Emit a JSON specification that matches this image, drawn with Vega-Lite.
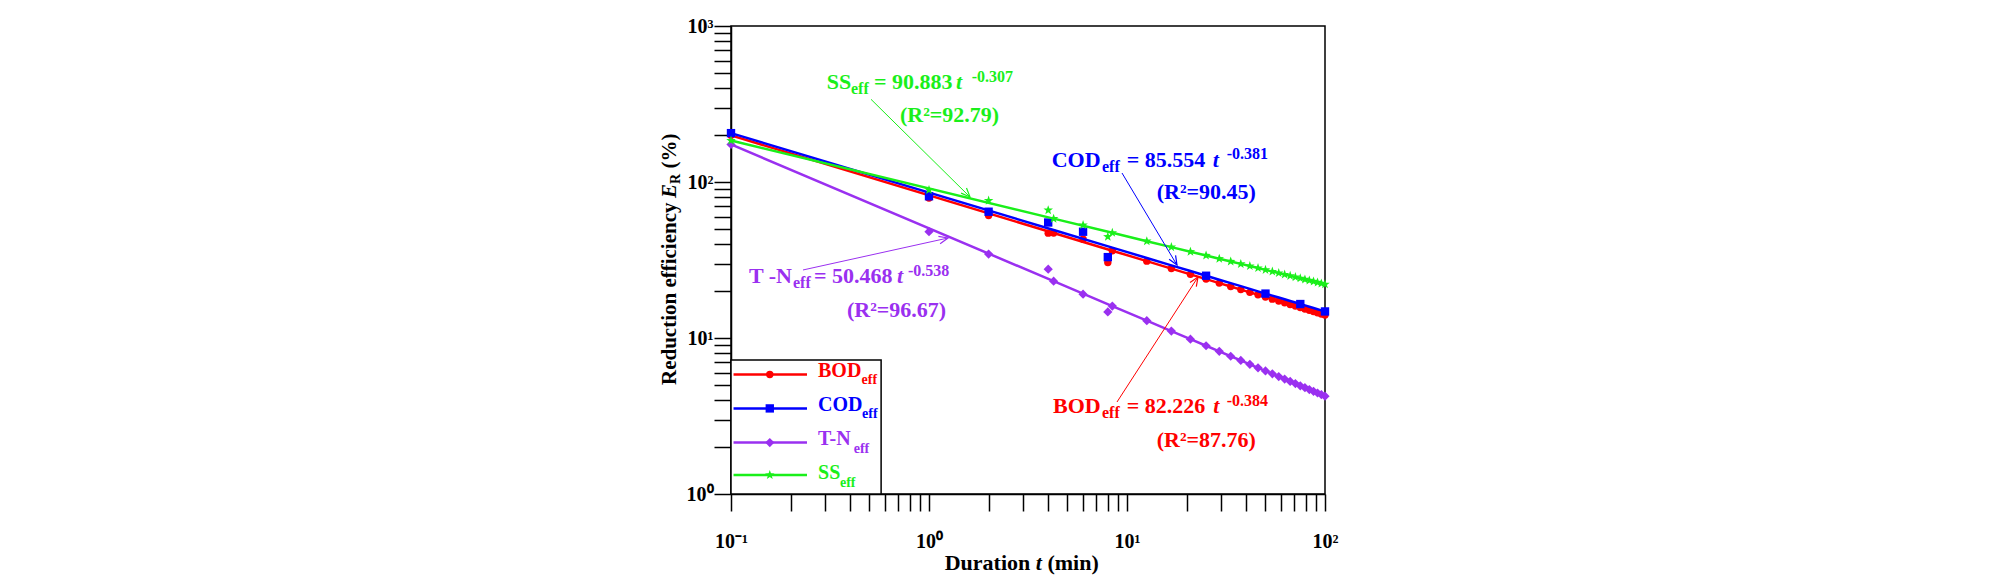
{
  "$schema": "https://vega.github.io/schema/vega-lite/v6.json",
  "width": 594,
  "height": 468,
  "autosize": {"type": "none"},
  "padding": {"left": 731, "top": 26, "right": 683, "bottom": 90},
  "background": "white",
  "config": {
    "view": {"stroke": "black", "strokeWidth": 1.5},
    "text": {"font": "Liberation Serif", "fontWeight": "bold", "align": "left", "baseline": "alphabetic"}
  },
  "datasets": {
    "fit": [
      {"series": "BOD", "t": 0.1, "v": 199.07}, {"series": "BOD", "t": 4.26, "v": 47.13}, {"series": "BOD", "t": 8.43, "v": 36.26},
      {"series": "BOD", "t": 12.59, "v": 31.09}, {"series": "BOD", "t": 16.75, "v": 27.86}, {"series": "BOD", "t": 20.91, "v": 25.59},
      {"series": "BOD", "t": 25.08, "v": 23.86}, {"series": "BOD", "t": 29.24, "v": 22.49}, {"series": "BOD", "t": 33.4, "v": 21.37},
      {"series": "BOD", "t": 37.56, "v": 20.43}, {"series": "BOD", "t": 41.73, "v": 19.62}, {"series": "BOD", "t": 45.89, "v": 18.92},
      {"series": "BOD", "t": 50.05, "v": 18.3}, {"series": "BOD", "t": 54.21, "v": 17.75}, {"series": "BOD", "t": 58.38, "v": 17.25},
      {"series": "BOD", "t": 62.54, "v": 16.8}, {"series": "BOD", "t": 66.7, "v": 16.39}, {"series": "BOD", "t": 70.86, "v": 16.01},
      {"series": "BOD", "t": 75.03, "v": 15.66}, {"series": "BOD", "t": 79.19, "v": 15.34}, {"series": "BOD", "t": 83.35, "v": 15.04},
      {"series": "BOD", "t": 87.51, "v": 14.77}, {"series": "BOD", "t": 91.68, "v": 14.5}, {"series": "BOD", "t": 95.84, "v": 14.26},
      {"series": "BOD", "t": 100, "v": 14.03},
      {"series": "COD", "t": 0.1, "v": 205.7}, {"series": "COD", "t": 4.26, "v": 49.25}, {"series": "COD", "t": 8.43, "v": 37.98},
      {"series": "COD", "t": 12.59, "v": 32.59}, {"series": "COD", "t": 16.75, "v": 29.23}, {"series": "COD", "t": 20.91, "v": 26.86},
      {"series": "COD", "t": 25.08, "v": 25.07}, {"series": "COD", "t": 29.24, "v": 23.64}, {"series": "COD", "t": 33.4, "v": 22.47},
      {"series": "COD", "t": 37.56, "v": 21.49}, {"series": "COD", "t": 41.73, "v": 20.65}, {"series": "COD", "t": 45.89, "v": 19.91},
      {"series": "COD", "t": 50.05, "v": 19.26}, {"series": "COD", "t": 54.21, "v": 18.69}, {"series": "COD", "t": 58.38, "v": 18.17},
      {"series": "COD", "t": 62.54, "v": 17.7}, {"series": "COD", "t": 66.7, "v": 17.27}, {"series": "COD", "t": 70.86, "v": 16.87},
      {"series": "COD", "t": 75.03, "v": 16.51}, {"series": "COD", "t": 79.19, "v": 16.18}, {"series": "COD", "t": 83.35, "v": 15.86},
      {"series": "COD", "t": 87.51, "v": 15.57}, {"series": "COD", "t": 91.68, "v": 15.3}, {"series": "COD", "t": 95.84, "v": 15.04},
      {"series": "COD", "t": 100, "v": 14.8},
      {"series": "T-N", "t": 0.1, "v": 174.19}, {"series": "T-N", "t": 4.26, "v": 23.14}, {"series": "T-N", "t": 8.43, "v": 16.03},
      {"series": "T-N", "t": 12.59, "v": 12.92}, {"series": "T-N", "t": 16.75, "v": 11.08}, {"series": "T-N", "t": 20.91, "v": 9.83},
      {"series": "T-N", "t": 25.08, "v": 8.92}, {"series": "T-N", "t": 29.24, "v": 8.21}, {"series": "T-N", "t": 33.4, "v": 7.64},
      {"series": "T-N", "t": 37.56, "v": 7.18}, {"series": "T-N", "t": 41.73, "v": 6.78}, {"series": "T-N", "t": 45.89, "v": 6.44},
      {"series": "T-N", "t": 50.05, "v": 6.15}, {"series": "T-N", "t": 54.21, "v": 5.89}, {"series": "T-N", "t": 58.38, "v": 5.66},
      {"series": "T-N", "t": 62.54, "v": 5.45}, {"series": "T-N", "t": 66.7, "v": 5.27}, {"series": "T-N", "t": 70.86, "v": 5.1},
      {"series": "T-N", "t": 75.03, "v": 4.94}, {"series": "T-N", "t": 79.19, "v": 4.8}, {"series": "T-N", "t": 83.35, "v": 4.67},
      {"series": "T-N", "t": 87.51, "v": 4.55}, {"series": "T-N", "t": 91.68, "v": 4.44}, {"series": "T-N", "t": 95.84, "v": 4.34},
      {"series": "T-N", "t": 100, "v": 4.24},
      {"series": "SS", "t": 0.1, "v": 184.28}, {"series": "SS", "t": 4.26, "v": 58.24}, {"series": "SS", "t": 8.43, "v": 47.23},
      {"series": "SS", "t": 12.59, "v": 41.76}, {"series": "SS", "t": 16.75, "v": 38.26}, {"series": "SS", "t": 20.91, "v": 35.74},
      {"series": "SS", "t": 25.08, "v": 33.8}, {"series": "SS", "t": 29.24, "v": 32.24}, {"series": "SS", "t": 33.4, "v": 30.95},
      {"series": "SS", "t": 37.56, "v": 29.86}, {"series": "SS", "t": 41.73, "v": 28.91}, {"series": "SS", "t": 45.89, "v": 28.08},
      {"series": "SS", "t": 50.05, "v": 27.34}, {"series": "SS", "t": 54.21, "v": 26.68}, {"series": "SS", "t": 58.38, "v": 26.08},
      {"series": "SS", "t": 62.54, "v": 25.53}, {"series": "SS", "t": 66.7, "v": 25.03}, {"series": "SS", "t": 70.86, "v": 24.57},
      {"series": "SS", "t": 75.03, "v": 24.14}, {"series": "SS", "t": 79.19, "v": 23.75}, {"series": "SS", "t": 83.35, "v": 23.38},
      {"series": "SS", "t": 87.51, "v": 23.03}, {"series": "SS", "t": 91.68, "v": 22.7}, {"series": "SS", "t": 95.84, "v": 22.39},
      {"series": "SS", "t": 100, "v": 22.1}
    ],
    "obs": [
      {"series": "BOD", "t": 1, "v": 79}, {"series": "BOD", "t": 2, "v": 61}, {"series": "BOD", "t": 4, "v": 47}, {"series": "BOD", "t": 6, "v": 43}, {"series": "BOD", "t": 8, "v": 30.5},
      {"series": "COD", "t": 1, "v": 81}, {"series": "COD", "t": 2, "v": 64.5}, {"series": "COD", "t": 4, "v": 55}, {"series": "COD", "t": 6, "v": 48}, {"series": "COD", "t": 8, "v": 33},
      {"series": "T-N", "t": 1, "v": 48}, {"series": "T-N", "t": 2, "v": 34.5}, {"series": "T-N", "t": 4, "v": 27.6}, {"series": "T-N", "t": 6, "v": 19.1}, {"series": "T-N", "t": 8, "v": 14.7},
      {"series": "SS", "t": 1, "v": 89}, {"series": "SS", "t": 2, "v": 76}, {"series": "SS", "t": 4, "v": 66}, {"series": "SS", "t": 6, "v": 53}, {"series": "SS", "t": 8, "v": 44.6}
    ],
    "notes": [
      {"series": "SS", "part": "main", "text": "SS", "t": 0.3042, "v": 392.8},
      {"series": "SS", "part": "sub", "text": "eff", "t": 0.4037, "v": 363.9},
      {"series": "SS", "part": "eq", "text": "= 90.883", "t": 0.5275, "v": 392.8},
      {"series": "SS", "part": "var", "text": "t", "t": 1.369, "v": 392.8},
      {"series": "SS", "part": "sup", "text": "-0.307", "t": 1.643, "v": 439.5},
      {"series": "SS", "part": "r2", "text": "(R²=92.79)", "t": 0.7138, "v": 243.5},
      {"series": "COD", "part": "main", "text": "COD", "t": 4.166, "v": 124.8},
      {"series": "COD", "part": "sub", "text": "eff", "t": 7.476, "v": 115.9},
      {"series": "COD", "part": "eq", "text": "= 85.554", "t": 9.965, "v": 124.8},
      {"series": "COD", "part": "var", "text": "t", "t": 27.09, "v": 124.8},
      {"series": "COD", "part": "sup", "text": "-0.381", "t": 31.88, "v": 140.4},
      {"series": "COD", "part": "r2", "text": "(R²=90.45)", "t": 14.13, "v": 77.8},
      {"series": "T-N", "part": "main", "text": "T -N", "t": 0.1233, "v": 22.52},
      {"series": "T-N", "part": "sub", "text": "eff", "t": 0.2056, "v": 20.92},
      {"series": "T-N", "part": "eq", "text": "= 50.468", "t": 0.2625, "v": 22.52},
      {"series": "T-N", "part": "var", "text": "t", "t": 0.6893, "v": 22.52},
      {"series": "T-N", "part": "sup", "text": "-0.538", "t": 0.7832, "v": 24.97},
      {"series": "T-N", "part": "r2", "text": "(R²=96.67)", "t": 0.3854, "v": 13.69},
      {"series": "BOD", "part": "main", "text": "BOD", "t": 4.23, "v": 3.29},
      {"series": "BOD", "part": "sub", "text": "eff", "t": 7.476, "v": 3.057},
      {"series": "BOD", "part": "eq", "text": "= 82.226", "t": 9.965, "v": 3.29},
      {"series": "BOD", "part": "var", "text": "t", "t": 27.28, "v": 3.29},
      {"series": "BOD", "part": "sup", "text": "-0.384", "t": 31.88, "v": 3.692},
      {"series": "BOD", "part": "r2", "text": "(R²=87.76)", "t": 14.13, "v": 2.011}
    ],
    "arrows": [
      {"series": "SS", "t": 0.5095, "v": 338.9, "t2": 1.611, "v2": 80.15},
      {"series": "COD", "t": 9.434, "v": 114.2, "t2": 17.88, "v2": 29.37},
      {"series": "T-N", "t": 0.231, "v": 27.29, "t2": 1.247, "v2": 43.75},
      {"series": "BOD", "t": 8.902, "v": 3.888, "t2": 22.84, "v2": 24.6}
    ],
    "box": [{"t": 0.1, "t2": 0.573, "v": 1, "v2": 7.23}],
    "key": [
      {"series": "BOD", "label": "BOD", "t": 0.103, "t2": 0.242, "mt": 0.157, "lt": 0.2751, "v": 5.834, "tv": 5.649, "sv": 5.043, "st": 0.4566},
      {"series": "COD", "label": "COD", "t": 0.103, "t2": 0.242, "mt": 0.157, "lt": 0.2751, "v": 3.537, "tv": 3.424, "sv": 3.057, "st": 0.4588},
      {"series": "T-N", "label": "T-N", "t": 0.103, "t2": 0.242, "mt": 0.157, "lt": 0.2751, "v": 2.135, "tv": 2.055, "sv": 1.845, "st": 0.4167},
      {"series": "SS", "label": "SS", "t": 0.103, "t2": 0.242, "mt": 0.157, "lt": 0.2751, "v": 1.324, "tv": 1.248, "sv": 1.102, "st": 0.3552}
    ],
    "titles": [
      {"part": "x", "text": "Duration", "t": 1.2004, "v": 0.3258},
      {"part": "xi", "text": "t", "t": 3.463, "v": 0.3258},
      {"part": "x", "text": "(min)", "t": 3.963, "v": 0.3258},
      {"part": "y", "text": "Reduction efficiency", "t": 0.05276, "v": 4.996},
      {"part": "yi", "text": "E", "t": 0.05276, "v": 78.98},
      {"part": "ys", "text": "R", "t": 0.05526, "v": 97.1},
      {"part": "y", "text": "(%)", "t": 0.05276, "v": 122.1}
    ]
  },
  "encoding": {
    "x": {
      "field": "t", "type": "quantitative",
      "scale": {"type": "log", "domain": [0.1, 100], "nice": false},
      "axis": {
        "values": [0.1, 0.2, 0.3, 0.4, 0.5, 0.6, 0.7, 0.8, 0.9, 1, 2, 3, 4, 5, 6, 7, 8, 9, 10, 20, 30, 40, 50, 60, 70, 80, 90, 100],
        "title": null, "grid": false,
        "domainColor": "black", "domainWidth": 1.5, "tickColor": "black", "tickWidth": 1.5, "tickSize": 17,
        "encode": {"ticks": {"update": {"y2": {"signal": "abs(log(datum.value)/LN10 - round(log(datum.value)/LN10)) < 0.001 ? 17 : 11"}}}},
        "labelExpr": "datum.value < 0.15 ? '10⁻¹' : abs(datum.value - 1) < 0.01 ? '10⁰' : abs(datum.value - 10) < 0.01 ? '10¹' : abs(datum.value - 100) < 0.1 ? '10²' : ''",
        "labelFont": "Liberation Serif", "labelFontWeight": "bold", "labelFontSize": 20, "labelColor": "black",
        "labelPadding": 20, "labelFlush": false, "labelOverlap": false, "labelBound": false
      }
    },
    "y": {
      "field": "v", "type": "quantitative",
      "scale": {"type": "log", "domain": [1, 1000], "nice": false},
      "axis": {
        "values": [1, 2, 3, 4, 5, 6, 7, 8, 9, 10, 20, 30, 40, 50, 60, 70, 80, 90, 100, 200, 300, 400, 500, 600, 700, 800, 900, 1000],
        "title": null, "grid": false,
        "domainColor": "black", "domainWidth": 1.5, "tickColor": "black", "tickWidth": 1.5, "tickSize": 17,
        "encode": {"ticks": {"update": {"x2": {"signal": "abs(log(datum.value)/LN10 - round(log(datum.value)/LN10)) < 0.001 ? -17 : -11"}}}},
        "labelExpr": "abs(datum.value - 1) < 0.01 ? '10⁰' : abs(datum.value - 10) < 0.01 ? '10¹' : abs(datum.value - 100) < 0.1 ? '10²' : abs(datum.value - 1000) < 1 ? '10³' : ''",
        "labelFont": "Liberation Serif", "labelFontWeight": "bold", "labelFontSize": 20, "labelColor": "black",
        "labelPadding": 1, "labelFlush": false, "labelOverlap": false, "labelBound": false
      }
    },
    "color": {
      "field": "series", "type": "nominal",
      "scale": {"domain": ["BOD", "COD", "T-N", "SS"], "range": ["#ff0000", "#0000ff", "#9a30f0", "#1aef1a"]},
      "legend": null
    }
  },
  "layer": [
    {
      "data": {"name": "fit"},
      "transform": [{"filter": "datum.series == 'BOD'"}],
      "mark": {"type": "line", "strokeWidth": 2.5}
    },
    {
      "data": {"name": "fit"},
      "transform": [{"filter": "datum.series == 'BOD'"}],
      "mark": {"type": "point", "filled": true, "opacity": 1},
      "encoding": {
        "shape": {"field": "series", "type": "nominal", "scale": {"domain": ["BOD", "COD", "T-N", "SS"], "range": ["circle", "square", "diamond", "M0,-1L0.235,-0.324L0.951,-0.309L0.38,0.124L0.588,0.809L0,0.4L-0.588,0.809L-0.38,0.124L-0.951,-0.309L-0.235,-0.324Z"]}, "legend": null},
        "size": {"field": "series", "type": "ordinal", "scale": {"domain": ["BOD", "COD", "T-N", "SS"], "range": [55, 100, 50, 90]}, "legend": null}
      }
    },
    {
      "data": {"name": "obs"},
      "transform": [{"filter": "datum.series == 'BOD'"}],
      "mark": {"type": "point", "filled": true, "opacity": 1},
      "encoding": {
        "shape": {"field": "series", "type": "nominal", "scale": {"domain": ["BOD", "COD", "T-N", "SS"], "range": ["circle", "square", "diamond", "M0,-1L0.235,-0.324L0.951,-0.309L0.38,0.124L0.588,0.809L0,0.4L-0.588,0.809L-0.38,0.124L-0.951,-0.309L-0.235,-0.324Z"]}, "legend": null},
        "size": {"field": "series", "type": "ordinal", "scale": {"domain": ["BOD", "COD", "T-N", "SS"], "range": [55, 100, 50, 90]}, "legend": null}
      }
    },
    {
      "data": {"name": "fit"},
      "transform": [{"filter": "datum.series == 'COD'"}],
      "mark": {"type": "line", "strokeWidth": 2.5}
    },
    {
      "data": {"name": "fit"},
      "transform": [{"filter": "datum.series == 'COD' && (datum.t == 0.1 || datum.t == 25.08 || datum.t == 50.05 || datum.t == 75.03 || datum.t == 100)"}],
      "mark": {"type": "point", "filled": true, "opacity": 1},
      "encoding": {
        "shape": {"field": "series", "type": "nominal", "scale": {"domain": ["BOD", "COD", "T-N", "SS"], "range": ["circle", "square", "diamond", "M0,-1L0.235,-0.324L0.951,-0.309L0.38,0.124L0.588,0.809L0,0.4L-0.588,0.809L-0.38,0.124L-0.951,-0.309L-0.235,-0.324Z"]}, "legend": null},
        "size": {"field": "series", "type": "ordinal", "scale": {"domain": ["BOD", "COD", "T-N", "SS"], "range": [55, 100, 50, 90]}, "legend": null}
      }
    },
    {
      "data": {"name": "obs"},
      "transform": [{"filter": "datum.series == 'COD'"}],
      "mark": {"type": "point", "filled": true, "opacity": 1},
      "encoding": {
        "shape": {"field": "series", "type": "nominal", "scale": {"domain": ["BOD", "COD", "T-N", "SS"], "range": ["circle", "square", "diamond", "M0,-1L0.235,-0.324L0.951,-0.309L0.38,0.124L0.588,0.809L0,0.4L-0.588,0.809L-0.38,0.124L-0.951,-0.309L-0.235,-0.324Z"]}, "legend": null},
        "size": {"field": "series", "type": "ordinal", "scale": {"domain": ["BOD", "COD", "T-N", "SS"], "range": [55, 100, 50, 90]}, "legend": null}
      }
    },
    {
      "data": {"name": "fit"},
      "transform": [{"filter": "datum.series == 'T-N'"}],
      "mark": {"type": "line", "strokeWidth": 2.5}
    },
    {
      "data": {"name": "fit"},
      "transform": [{"filter": "datum.series == 'T-N'"}],
      "mark": {"type": "point", "filled": true, "opacity": 1},
      "encoding": {
        "shape": {"field": "series", "type": "nominal", "scale": {"domain": ["BOD", "COD", "T-N", "SS"], "range": ["circle", "square", "diamond", "M0,-1L0.235,-0.324L0.951,-0.309L0.38,0.124L0.588,0.809L0,0.4L-0.588,0.809L-0.38,0.124L-0.951,-0.309L-0.235,-0.324Z"]}, "legend": null},
        "size": {"field": "series", "type": "ordinal", "scale": {"domain": ["BOD", "COD", "T-N", "SS"], "range": [55, 100, 50, 90]}, "legend": null}
      }
    },
    {
      "data": {"name": "obs"},
      "transform": [{"filter": "datum.series == 'T-N'"}],
      "mark": {"type": "point", "filled": true, "opacity": 1},
      "encoding": {
        "shape": {"field": "series", "type": "nominal", "scale": {"domain": ["BOD", "COD", "T-N", "SS"], "range": ["circle", "square", "diamond", "M0,-1L0.235,-0.324L0.951,-0.309L0.38,0.124L0.588,0.809L0,0.4L-0.588,0.809L-0.38,0.124L-0.951,-0.309L-0.235,-0.324Z"]}, "legend": null},
        "size": {"field": "series", "type": "ordinal", "scale": {"domain": ["BOD", "COD", "T-N", "SS"], "range": [55, 100, 50, 90]}, "legend": null}
      }
    },
    {
      "data": {"name": "fit"},
      "transform": [{"filter": "datum.series == 'SS'"}],
      "mark": {"type": "line", "strokeWidth": 2.5}
    },
    {
      "data": {"name": "fit"},
      "transform": [{"filter": "datum.series == 'SS'"}],
      "mark": {"type": "point", "filled": true, "opacity": 1},
      "encoding": {
        "shape": {"field": "series", "type": "nominal", "scale": {"domain": ["BOD", "COD", "T-N", "SS"], "range": ["circle", "square", "diamond", "M0,-1L0.235,-0.324L0.951,-0.309L0.38,0.124L0.588,0.809L0,0.4L-0.588,0.809L-0.38,0.124L-0.951,-0.309L-0.235,-0.324Z"]}, "legend": null},
        "size": {"field": "series", "type": "ordinal", "scale": {"domain": ["BOD", "COD", "T-N", "SS"], "range": [55, 100, 50, 90]}, "legend": null}
      }
    },
    {
      "data": {"name": "obs"},
      "transform": [{"filter": "datum.series == 'SS'"}],
      "mark": {"type": "point", "filled": true, "opacity": 1},
      "encoding": {
        "shape": {"field": "series", "type": "nominal", "scale": {"domain": ["BOD", "COD", "T-N", "SS"], "range": ["circle", "square", "diamond", "M0,-1L0.235,-0.324L0.951,-0.309L0.38,0.124L0.588,0.809L0,0.4L-0.588,0.809L-0.38,0.124L-0.951,-0.309L-0.235,-0.324Z"]}, "legend": null},
        "size": {"field": "series", "type": "ordinal", "scale": {"domain": ["BOD", "COD", "T-N", "SS"], "range": [55, 100, 50, 90]}, "legend": null}
      }
    },
    {
      "data": {"name": "box"},
      "mark": {"type": "rect", "stroke": "black", "strokeWidth": 1.5},
      "encoding": {
        "x2": {"field": "t2"},
        "y2": {"field": "v2"},
        "color": {"value": "white"}
      }
    },
    {
      "data": {"name": "key"},
      "mark": {"type": "rule", "strokeWidth": 2.5},
      "encoding": {
        "x2": {"field": "t2"}
      }
    },
    {
      "data": {"name": "key"},
      "mark": {"type": "point", "filled": true, "opacity": 1},
      "encoding": {
        "x": {"field": "mt", "type": "quantitative"},
        "shape": {"field": "series", "type": "nominal", "scale": {"domain": ["BOD", "COD", "T-N", "SS"], "range": ["circle", "square", "diamond", "M0,-1L0.235,-0.324L0.951,-0.309L0.38,0.124L0.588,0.809L0,0.4L-0.588,0.809L-0.38,0.124L-0.951,-0.309L-0.235,-0.324Z"]}, "legend": null},
        "size": {"field": "series", "type": "ordinal", "scale": {"domain": ["BOD", "COD", "T-N", "SS"], "range": [55, 100, 50, 90]}, "legend": null}
      }
    },
    {
      "data": {"name": "key"},
      "mark": {"type": "text", "fontSize": 20},
      "encoding": {
        "x": {"field": "lt", "type": "quantitative"},
        "y": {"field": "tv", "type": "quantitative"},
        "text": {"field": "label"}
      }
    },
    {
      "data": {"name": "key"},
      "mark": {"type": "text", "fontSize": 14},
      "encoding": {
        "x": {"field": "st", "type": "quantitative"},
        "y": {"field": "sv", "type": "quantitative"},
        "text": {"value": "eff"}
      }
    },
    {
      "data": {"name": "notes"},
      "transform": [{"filter": "datum.part == 'main' || datum.part == 'eq' || datum.part == 'r2'"}],
      "mark": {"type": "text", "fontSize": 22},
      "encoding": {"text": {"field": "text"}}
    },
    {
      "data": {"name": "notes"},
      "transform": [{"filter": "datum.part == 'sub' || datum.part == 'sup'"}],
      "mark": {"type": "text", "fontSize": 16},
      "encoding": {"text": {"field": "text"}}
    },
    {
      "data": {"name": "notes"},
      "transform": [{"filter": "datum.part == 'var'"}],
      "mark": {"type": "text", "fontSize": 22, "fontStyle": "italic"},
      "encoding": {"text": {"field": "text"}}
    },
    {
      "data": {"name": "arrows"},
      "mark": {"type": "rule", "strokeWidth": 1},
      "encoding": {
        "x2": {"field": "t2"},
        "y2": {"field": "v2"}
      }
    },
    {
      "data": {"name": "arrows"},
      "transform": [{"filter": "datum.series == 'SS'"}],
      "mark": {"type": "point", "shape": "M-0.42,-1L0,0L0.42,-1", "filled": false, "size": 320, "strokeWidth": 1.2, "opacity": 1, "angle": -44},
      "encoding": {
        "x": {"field": "t2", "type": "quantitative"},
        "y": {"field": "v2", "type": "quantitative"}
      }
    },
    {
      "data": {"name": "arrows"},
      "transform": [{"filter": "datum.series == 'COD'"}],
      "mark": {"type": "point", "shape": "M-0.42,-1L0,0L0.42,-1", "filled": false, "size": 320, "strokeWidth": 1.2, "opacity": 1, "angle": -31},
      "encoding": {
        "x": {"field": "t2", "type": "quantitative"},
        "y": {"field": "v2", "type": "quantitative"}
      }
    },
    {
      "data": {"name": "arrows"},
      "transform": [{"filter": "datum.series == 'T-N'"}],
      "mark": {"type": "point", "shape": "M-0.42,-1L0,0L0.42,-1", "filled": false, "size": 320, "strokeWidth": 1.2, "opacity": 1, "angle": -103},
      "encoding": {
        "x": {"field": "t2", "type": "quantitative"},
        "y": {"field": "v2", "type": "quantitative"}
      }
    },
    {
      "data": {"name": "arrows"},
      "transform": [{"filter": "datum.series == 'BOD'"}],
      "mark": {"type": "point", "shape": "M-0.42,-1L0,0L0.42,-1", "filled": false, "size": 320, "strokeWidth": 1.2, "opacity": 1, "angle": -147},
      "encoding": {
        "x": {"field": "t2", "type": "quantitative"},
        "y": {"field": "v2", "type": "quantitative"}
      }
    },
    {
      "data": {"name": "titles"},
      "transform": [{"filter": "datum.part == 'x'"}],
      "mark": {"type": "text", "fontSize": 22},
      "encoding": {"text": {"field": "text"}, "color": {"value": "black"}}
    },
    {
      "data": {"name": "titles"},
      "transform": [{"filter": "datum.part == 'xi'"}],
      "mark": {"type": "text", "fontSize": 22, "fontStyle": "italic"},
      "encoding": {"text": {"field": "text"}, "color": {"value": "black"}}
    },
    {
      "data": {"name": "titles"},
      "transform": [{"filter": "datum.part == 'y'"}],
      "mark": {"type": "text", "fontSize": 21, "angle": 270},
      "encoding": {"text": {"field": "text"}, "color": {"value": "black"}}
    },
    {
      "data": {"name": "titles"},
      "transform": [{"filter": "datum.part == 'yi'"}],
      "mark": {"type": "text", "fontSize": 21, "angle": 270, "fontStyle": "italic"},
      "encoding": {"text": {"field": "text"}, "color": {"value": "black"}}
    },
    {
      "data": {"name": "titles"},
      "transform": [{"filter": "datum.part == 'ys'"}],
      "mark": {"type": "text", "fontSize": 14, "angle": 270},
      "encoding": {"text": {"field": "text"}, "color": {"value": "black"}}
    }
  ]
}
